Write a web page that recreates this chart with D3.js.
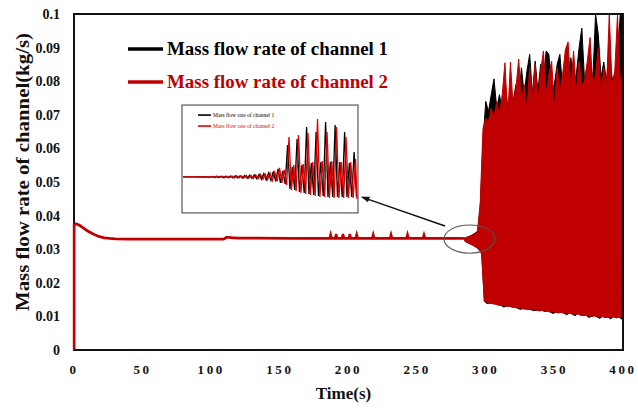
<!DOCTYPE html>
<html>
<head>
<meta charset="utf-8">
<script src="https://cdn.jsdelivr.net/npm/d3@7"></script>
<style>
    body { margin: 0; background: #fff; }
    svg { display: block; font-family: "Liberation Serif", "Times New Roman", serif; font-weight: bold; }
</style>
</head>
<body>
<div id="chart"></div>
<script>
// ---- data ----
const xTicks = [0, 50, 100, 150, 200, 250, 300, 350, 400];
const yTicks = [0, 0.01, 0.02, 0.03, 0.04, 0.05, 0.06, 0.07, 0.08, 0.09, 0.1];
const yTickLabels = ['0', '0.01', '0.02', '0.03', '0.04', '0.05', '0.06', '0.07', '0.08', '0.09', '0.1'];
const seriesNames = ['Mass flow rate of channel 1', 'Mass flow rate of channel 2'];

// steady part, same for both channels
const baseTime = [0, 0, 2, 4, 7, 10, 14, 18, 22, 26, 30, 40, 60, 80, 100, 109, 111, 113, 116, 120, 130, 160, 200, 240, 284];
const baseFlow = [0, 0.0376, 0.0375, 0.0371, 0.0363, 0.0354, 0.0345, 0.0338, 0.0334, 0.0332, 0.0331, 0.0330, 0.0330, 0.0330, 0.0330,
                  0.0330, 0.0335, 0.0335, 0.0334, 0.0333, 0.0333, 0.0332, 0.0332, 0.0332, 0.0332];

// small blips on the steady line
const spikeTime = [187, 191, 196, 201, 206, 218, 231, 243, 255];
const spikeFlow = [0.0344, 0.0345, 0.0345, 0.0345, 0.0344, 0.0344, 0.0344, 0.0344, 0.0343];

// oscillation envelope: peak at each oscTime, trough one second later
const oscTime = [284, 286, 288, 290, 292, 294, 296, 298, 300, 302, 304, 306, 308, 310, 312, 314, 316, 318, 320, 322,
                 324, 326, 328, 330, 332, 334, 336, 338, 340, 342, 344, 346, 348, 350, 352, 354, 356, 358, 360, 362,
                 364, 366, 368, 370, 372, 374, 376, 378, 380, 382, 384, 386, 388, 390, 392, 394, 396, 398, 400];
const peak1 = [0.0332, 0.0335, 0.0338, 0.0342, 0.0347, 0.0353, 0.0420,
               0.062, 0.074, 0.071, 0.076, 0.0807, 0.072, 0.076, 0.071, 0.080, 0.072, 0.077, 0.074, 0.079, 0.075,
               0.084, 0.076, 0.083, 0.088, 0.076, 0.086, 0.077, 0.085, 0.080, 0.089, 0.088, 0.077, 0.079, 0.085,
               0.088, 0.078, 0.086, 0.080, 0.087, 0.079, 0.082, 0.090, 0.0958, 0.080, 0.085, 0.087, 0.080, 0.100,
               0.094, 0.081, 0.0857, 0.080, 0.088, 0.081, 0.081, 0.086, 0.100, 0.100];
const trough1 = [0.0323, 0.0319, 0.0315, 0.0311, 0.0306, 0.0300, 0.0290, 0.0145, 0.0138, 0.0140, 0.0138, 0.0137, 0.0134, 0.0133,
                 0.0128, 0.0130, 0.0131, 0.0128, 0.0127, 0.0125, 0.0121, 0.0123, 0.0122, 0.0121, 0.0120, 0.0117, 0.0118, 0.0117,
                 0.0118, 0.0115, 0.0116, 0.0113, 0.0109, 0.0112, 0.0111, 0.0112, 0.0110, 0.0105, 0.0110, 0.0107, 0.0102, 0.0108,
                 0.0104, 0.0103, 0.0104, 0.0097, 0.0100, 0.0102, 0.0099, 0.0094, 0.0100, 0.0097, 0.0098, 0.0093, 0.0099, 0.0096,
                 0.0098, 0.0092];
const peak2 = [0.0332, 0.0335, 0.0338, 0.0342, 0.0347, 0.0353, 0.0440,
               0.066, 0.069, 0.068, 0.072, 0.069, 0.074, 0.070, 0.076, 0.0855, 0.069, 0.0857, 0.072, 0.078, 0.0866,
               0.074, 0.079, 0.072, 0.084, 0.075, 0.085, 0.074, 0.083, 0.089, 0.076, 0.082, 0.086, 0.072, 0.084,
               0.077, 0.082, 0.0893, 0.0917, 0.078, 0.089, 0.077, 0.086, 0.079, 0.080, 0.086, 0.093, 0.078, 0.082,
               0.090, 0.076, 0.084, 0.078, 0.100, 0.079, 0.083, 0.0997, 0.080, 0.082];
const trough2 = [0.0323, 0.0319, 0.0315, 0.0311, 0.0306, 0.0300, 0.0285, 0.0145, 0.0142, 0.0140, 0.0138, 0.0137, 0.0134, 0.0133,
                 0.0132, 0.0130, 0.0131, 0.0128, 0.0127, 0.0125, 0.0126, 0.0123, 0.0122, 0.0121, 0.0120, 0.0121, 0.0118, 0.0117,
                 0.0118, 0.0115, 0.0116, 0.0113, 0.0114, 0.0112, 0.0111, 0.0112, 0.0110, 0.0109, 0.0110, 0.0107, 0.0106, 0.0108,
                 0.0104, 0.0103, 0.0104, 0.0101, 0.0100, 0.0102, 0.0099, 0.0098, 0.0100, 0.0097, 0.0098, 0.0097, 0.0099, 0.0096,
                 0.0098, 0.0097];

// inset: zoom on the onset, one peak + trough per cycle
const insetCycle = [0, 1, 2, 3, 4, 5, 6, 7, 8, 9, 10, 11, 12, 13, 14, 15, 16, 17, 18, 19, 20, 21, 22, 23, 24, 25, 26, 27, 28, 29,
                    30, 31, 32, 33, 34, 35];
const insetPeak1 = [0.0327, 0.0327, 0.03276, 0.03278, 0.03281, 0.03284, 0.03287, 0.03289, 0.03292, 0.03295, 0.03298, 0.03303,
                    0.03309, 0.03317, 0.03326, 0.03340, 0.03359, 0.03381, 0.03423, 0.03492, 0.03437, 0.04160, 0.03548, 0.04326,
                    0.03604, 0.04660, 0.03659, 0.04521, 0.03687, 0.04799, 0.03687, 0.04715, 0.03687, 0.04521, 0.03659, 0.03965];
const insetTrough1 = [0.0327, 0.0327, 0.03264, 0.03262, 0.03259, 0.03256, 0.03253, 0.03251, 0.03248, 0.03245, 0.03242, 0.03239,
                      0.03234, 0.03228, 0.03220, 0.03209, 0.03192, 0.03173, 0.03145, 0.03103, 0.03075, 0.02936, 0.02909, 0.02853,
                      0.02825, 0.02797, 0.02770, 0.02742, 0.02742, 0.02714, 0.02714, 0.02714, 0.02714, 0.02714, 0.02714, 0.02714];
const insetPeak2 = [0.0327, 0.0327, 0.03276, 0.03278, 0.03281, 0.03284, 0.03287, 0.03289, 0.03292, 0.03295, 0.03298, 0.03303,
                    0.03309, 0.03317, 0.03326, 0.03340, 0.03353, 0.03387, 0.03409, 0.03520, 0.03465, 0.04382, 0.03604, 0.04438,
                    0.03631, 0.04493, 0.03687, 0.04882, 0.03715, 0.04521, 0.03715, 0.04660, 0.03687, 0.04382, 0.03687, 0.03770];
const insetTrough2 = [0.0327, 0.0327, 0.03264, 0.03262, 0.03259, 0.03256, 0.03253, 0.03251, 0.03248, 0.03245, 0.03242, 0.03239,
                      0.03234, 0.03228, 0.03220, 0.03209, 0.03192, 0.03173, 0.03145, 0.03103, 0.03048, 0.02909, 0.02881, 0.02825,
                      0.02797, 0.02770, 0.02742, 0.02714, 0.02714, 0.02686, 0.02686, 0.02686, 0.02686, 0.02686, 0.02686, 0.02658];

// annotation anchors, in data units of the main chart
const insetBox = { t0: 78.7, t1: 206.9, v0: 0.0408, v1: 0.0729 };
const zoomEllipse = { t: 288.2, v: 0.0330, rt: 18.6, rv: 0.0042 };
const arrowFrom = [270.3, 0.0369];
const arrowTo = [209.8, 0.0455];

// ---- chart ----
const RED = '#c00000';
const width = 638, height = 408;
const margin = { top: 14, right: 15, bottom: 58, left: 74 };
const chartWidth = width - margin.left - margin.right;
const chartHeight = height - margin.top - margin.bottom;

const svg = d3.select('#chart').append('svg')
    .attr('width', width)
    .attr('height', height);
const defs = svg.append('defs');

const x = d3.scaleLinear().domain([0, 400]).range([0, chartWidth]);
const y = d3.scaleLinear().domain([0, 0.1]).range([chartHeight, 0]);

const g = svg.append('g')
    .attr('transform', `translate(${margin.left}, ${margin.top})`);

defs.append('clipPath').attr('id', 'plot-clip')
    .append('rect')
    .attr('width', chartWidth)
    .attr('height', chartHeight);

const line = d3.line().x(d => x(d[0])).y(d => y(d[1]));
const plot = g.append('g').attr('clip-path', 'url(#plot-clip)');

// envelope polygon: peaks forward, troughs back
function envelope(peaks, troughs) {
    const upper = oscTime.map((t, i) => [t, peaks[i]]);
    const lower = troughs.map((v, i) => [oscTime[i] + 1, v]).reverse();
    return upper.concat(lower);
}

function drawChannel(color, peaks, troughs) {
    plot.append('path')
        .datum(envelope(peaks, troughs))
        .attr('d', d => line(d) + 'Z')
        .attr('fill', color)
        .attr('stroke', color)
        .attr('stroke-width', 1)
        .attr('stroke-linejoin', 'miter');
}

drawChannel('#000', peak1, trough1);
drawChannel(RED, peak2, trough2);

// steady part (both channels overlap, red on top)
plot.append('path')
    .datum(baseTime.map((t, i) => [t, baseFlow[i]]))
    .attr('d', line)
    .attr('fill', 'none')
    .attr('stroke', RED)
    .attr('stroke-width', 2.8);

plot.selectAll('path.spike')
    .data(spikeTime.map((t, i) => [[t - 0.8, 0.0332], [t, spikeFlow[i]], [t + 0.8, 0.0332]]))
    .enter().append('path')
    .attr('class', 'spike')
    .attr('d', line)
    .attr('fill', 'none')
    .attr('stroke', RED)
    .attr('stroke-width', 2.4);

// frame
g.append('rect')
    .attr('width', chartWidth)
    .attr('height', chartHeight)
    .attr('fill', 'none')
    .attr('stroke', '#111')
    .attr('stroke-width', 2);

// red vertical jump at t = 0 sits on the left frame line
g.append('path')
    .datum([[0, 0], [0, baseFlow[1]]])
    .attr('d', line)
    .attr('stroke', RED)
    .attr('stroke-width', 2.4);

// tick labels (no tick marks in the reference)
g.selectAll('text.ytick')
    .data(yTicks)
    .enter().append('text')
    .attr('class', 'ytick')
    .attr('x', -14)
    .attr('y', d => y(d))
    .attr('dy', '0.35em')
    .attr('text-anchor', 'end')
    .style('font-size', '14px')
    .style('fill', '#111')
    .text((d, i) => yTickLabels[i]);

g.selectAll('text.xtick')
    .data(xTicks)
    .enter().append('text')
    .attr('class', 'xtick')
    .attr('x', d => x(d))
    .attr('y', chartHeight + 24)
    .attr('text-anchor', 'middle')
    .style('font-size', '13px')
    .style('letter-spacing', '2.6px')
    .style('fill', '#111')
    .text(d => d);

svg.append('text')
    .attr('x', margin.left + chartWidth / 2 - 5)
    .attr('y', 399)
    .attr('text-anchor', 'middle')
    .style('font-size', '17px')
    .style('fill', '#111')
    .text('Time(s)');

svg.append('text')
    .attr('transform', 'translate(29, 172) rotate(-90)')
    .attr('text-anchor', 'middle')
    .attr('textLength', 278)
    .attr('lengthAdjust', 'spacingAndGlyphs')
    .style('font-size', '19px')
    .style('fill', '#111')
    .text('Mass flow rate of channel(kg/s)');

// legend
const legend = svg.append('g');
[['#000', 49], [RED, 82]].forEach(([c, ly], i) => {
    legend.append('line')
        .attr('x1', 128).attr('x2', 163)
        .attr('y1', ly).attr('y2', ly)
        .attr('stroke', c)
        .attr('stroke-width', 3.5);
    legend.append('text')
        .attr('x', 167)
        .attr('y', ly + 6)
        .attr('textLength', 221)
        .attr('lengthAdjust', 'spacingAndGlyphs')
        .style('font-size', '18px')
        .style('fill', c)
        .text(seriesNames[i]);
});

// zoom ellipse and arrow
defs.append('marker')
    .attr('id', 'arrow')
    .attr('viewBox', '0 0 10 10')
    .attr('refX', 9).attr('refY', 5)
    .attr('markerWidth', 6).attr('markerHeight', 6)
    .attr('orient', 'auto')
    .append('path')
    .attr('d', 'M0,1.5 L10,5 L0,8.5 Z')
    .attr('fill', '#111');

g.append('ellipse')
    .attr('cx', x(zoomEllipse.t))
    .attr('cy', y(zoomEllipse.v))
    .attr('rx', x(zoomEllipse.rt) - x(0))
    .attr('ry', y(0) - y(zoomEllipse.rv))
    .attr('fill', 'none')
    .attr('stroke', '#555')
    .attr('stroke-width', 1.1);

g.append('line')
    .attr('x1', x(arrowFrom[0])).attr('y1', y(arrowFrom[1]))
    .attr('x2', x(arrowTo[0])).attr('y2', y(arrowTo[1]))
    .attr('stroke', '#111')
    .attr('stroke-width', 1.4)
    .attr('marker-end', 'url(#arrow)');

// inset
const bx0 = x(insetBox.t0), bx1 = x(insetBox.t1);
const by0 = y(insetBox.v1), by1 = y(insetBox.v0);
const inset = g.append('g');
inset.append('rect')
    .attr('x', bx0).attr('y', by0)
    .attr('width', bx1 - bx0).attr('height', by1 - by0)
    .attr('fill', '#fff')
    .attr('stroke', '#666')
    .attr('stroke-width', 1.3);

const ix = d3.scaleLinear().domain([-1, 35.6]).range([bx0 + 1, bx1 - 1]);
const iy = d3.scaleLinear().domain([0.0227, 0.0527]).range([by1, by0]);

function insetSeries(peaks, troughs, shift) {
    const pts = [[-1, peaks[0]]];
    insetCycle.forEach((c, i) => {
        pts.push([c + shift, peaks[i]]);
        pts.push([c + shift + 0.5, troughs[i]]);
    });
    return pts;
}
const iline = d3.line().x(d => ix(Math.min(d[0], 35.6))).y(d => iy(d[1]));

inset.append('path')
    .datum(insetSeries(insetPeak1, insetTrough1, 0))
    .attr('d', iline)
    .attr('fill', 'none')
    .attr('stroke', '#000')
    .attr('stroke-width', 1.3);
inset.append('path')
    .datum(insetSeries(insetPeak2, insetTrough2, 0.3))
    .attr('d', iline)
    .attr('fill', 'none')
    .attr('stroke', '#e00000')
    .attr('stroke-width', 1.3);

[['#000', 10], ['#e00000', 21]].forEach(([c, dy], i) => {
    inset.append('line')
        .attr('x1', bx0 + 16).attr('x2', bx0 + 29)
        .attr('y1', by0 + dy).attr('y2', by0 + dy)
        .attr('stroke', c)
        .attr('stroke-width', 1.6);
    inset.append('text')
        .attr('x', bx0 + 31)
        .attr('y', by0 + dy + 2)
        .style('font-size', '5.5px')
        .style('font-weight', 'normal')
        .style('fill', c)
        .text(seriesNames[i]);
});
</script>
</body>
</html>
